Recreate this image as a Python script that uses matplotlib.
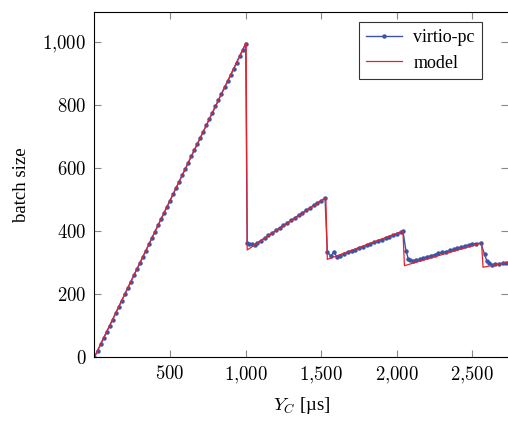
import matplotlib
matplotlib.use("Agg")
import matplotlib.pyplot as plt
from matplotlib.ticker import FuncFormatter

plt.rcParams['font.family'] = ['Liberation Serif', 'DejaVu Serif']
plt.rcParams['mathtext.fontset'] = 'cm'

# measured batch size (virtio-pc)
virtio_x = [0, 20, 40, 60, 80, 100, 120, 140, 160, 180, 200, 220, 240, 260, 280,
            300, 320, 340, 360, 380, 400, 420, 440, 460, 480, 500, 520, 540, 560,
            580, 600, 620, 640, 660, 680, 700, 720, 740, 760, 780, 800, 820, 840,
            860, 880, 900, 920, 940, 960, 980, 1000,
            1010, 1025, 1040, 1060, 1075, 1100, 1125, 1150, 1175, 1200, 1225, 1250,
            1275, 1300, 1325, 1350, 1375, 1400, 1425, 1450, 1475, 1500, 1525,
            1540, 1562, 1584, 1603, 1625, 1650, 1675, 1700, 1725, 1750, 1775, 1800,
            1825, 1850, 1875, 1900, 1925, 1950, 1975, 2000, 2025, 2040,
            2060, 2075, 2090, 2105, 2125, 2150, 2175, 2200, 2225, 2250, 2275, 2300,
            2325, 2350, 2375, 2400, 2425, 2450, 2475, 2500, 2525, 2555,
            2580, 2595, 2610, 2630, 2650, 2675, 2700, 2725, 2750]
virtio_y = [0, 20, 40, 60, 80, 99, 119, 139, 159, 179, 199, 219, 239, 259, 279,
            298, 318, 338, 358, 378, 398, 418, 438, 458, 477, 497, 517, 537, 557,
            577, 597, 617, 637, 657, 676, 696, 716, 736, 756, 776, 796, 816, 836,
            856, 875, 895, 915, 935, 955, 975, 995,
            362, 360, 358, 356, 362, 370, 378, 386, 394, 402, 410, 418,
            426, 434, 442, 450, 458, 466, 474, 482, 490, 497, 505,
            334, 320, 334, 318, 322, 327, 332, 337, 341, 346, 350, 355,
            359, 364, 368, 373, 377, 382, 386, 391, 396, 400,
            338, 312, 309, 305, 307, 311, 315, 318, 322, 325, 329, 332,
            335, 339, 342, 346, 349, 353, 356, 359, 360, 362,
            326, 305, 298, 293, 294, 296, 298, 300, 302]

# model prediction
model_x = [0, 1003, 1010, 1530, 1540, 2040, 2050, 2560, 2570, 2750]
model_y = [0, 998, 340, 505, 310, 400, 290, 362, 285, 302]

fig = plt.figure(figsize=(5.08, 4.21), dpi=100)
ax = fig.add_axes([0.186, 0.152, 0.814, 0.819])

ax.plot(virtio_x, virtio_y, color='#3a55a8', lw=1.0, marker='o', ms=2.2,
        label='virtio-pc')
ax.plot(model_x, model_y, color='#e8202a', lw=0.9, label='model')

ax.set_xlim(0, 2735)
ax.set_ylim(0, 1095)
ax.set_xticks([500, 1000, 1500, 2000, 2500])
ax.set_yticks([0, 200, 400, 600, 800, 1000])

def fmt(v, pos):
    v = int(round(v))
    if v >= 1000:
        return r'$%d{,}%03d$' % (v // 1000, v % 1000)
    return r'$%d$' % v

ax.xaxis.set_major_formatter(FuncFormatter(fmt))
ax.yaxis.set_major_formatter(FuncFormatter(fmt))
ax.tick_params(direction='in', length=5, width=0.8, color='#888888',
               labelsize=13.5, top=True, right=True, pad=6)
for s in ax.spines.values():
    s.set_linewidth(0.8)
ax.spines['right'].set_visible(False)

ax.set_xlabel(r'$Y_C$ [µs]', fontsize=13.5, labelpad=6)
ax.set_ylabel('batch size', fontsize=13.5, labelpad=9)

leg = ax.legend(loc='upper right', bbox_to_anchor=(0.937, 0.971), fontsize=13,
                frameon=True, fancybox=False, edgecolor='black', borderaxespad=0,
                handlelength=2.0, handletextpad=0.6, borderpad=0.4,
                labelspacing=0.45)
leg.get_frame().set_linewidth(0.8)

fig.savefig('out.png', dpi=100)
